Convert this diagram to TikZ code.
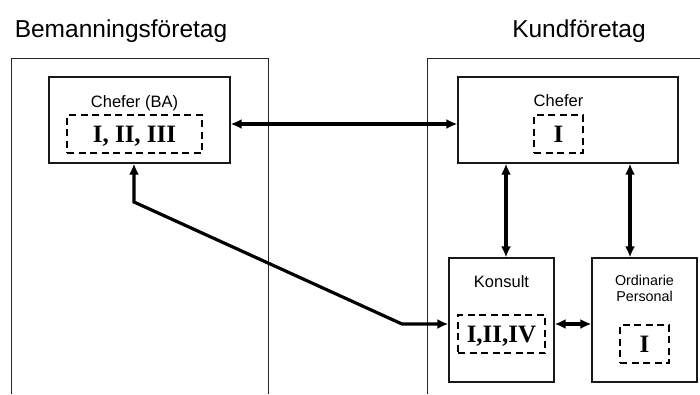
\documentclass[tikz,border=0pt]{standalone}
\usepackage{fontspec}
\setmainfont{Liberation Sans}
\newfontfamily\numfont{Liberation Serif}
\usetikzlibrary{arrows.meta}

\tikzset{
  outerline/.style={draw=black!85, line width=1pt},
  unitbox/.style={draw=black!90, line width=1.2pt, rectangle, inner sep=0pt},
  dashbox/.style={draw=black, line width=1.8pt, dash pattern=on 7pt off 4.5pt,
    rectangle, inner sep=0pt, text height=16pt, text depth=0pt,
    font=\numfont\bfseries\fontsize{25}{25}\selectfont},
  heading/.style={anchor=base, inner sep=0pt, font=\fontsize{24.5}{26}\selectfont},
  boxlabel/.style={anchor=base, inner sep=0pt, font=\fontsize{16.5}{18}\selectfont},
  smalllabel/.style={anchor=base, inner sep=0pt, font=\fontsize{14.3}{16.5}\selectfont},
  link/.style={line width=3.2pt, {Latex[length=11pt,width=10pt]}-{Latex[length=11pt,width=10pt]}}
}

\begin{document}
\begin{tikzpicture}[x=1pt,y=-1pt]
\useasboundingbox (0,0) rectangle (700,394);

% company frames (open at the bottom / right)
\draw[outerline] (11,394) -- (11,58) -- (268,58) -- (268,394);
\draw[outerline] (427,394) -- (427,58) -- (702,58);

% headings
\node[heading] (hBA) at (121,37) {Bemanningsföretag};
\node[heading] (hK)  at (579,37) {Kundföretag};

% staffing agency managers
\node[unitbox, minimum width=181pt, minimum height=86pt] (chefBA) at (139.5,120) {};
\node[boxlabel] (tBA) at (134.5,107) {Chefer (BA)};
\node[dashbox, minimum width=135pt, minimum height=38pt] (dBA) at (134.5,134) {I, II, III};

% client company managers
\node[unitbox, minimum width=220pt, minimum height=86pt] (chefK) at (568,120) {};
\node[boxlabel] (tK) at (558.5,106) {Chefer};
\node[dashbox, minimum width=49pt, minimum height=38pt] (dK) at (558.5,134) {I};

% consultant
\node[unitbox, minimum width=105pt, minimum height=124pt] (kons) at (501.5,320) {};
\node[boxlabel] (tKons) at (501.5,287) {Konsult};
\node[dashbox, minimum width=87pt, minimum height=38pt, text height=17pt] (dKons) at (501.5,334) {I,II,IV};

% regular staff
\node[unitbox, minimum width=105pt, minimum height=124pt] (ord) at (644.5,320) {};
\node[smalllabel] (tOrd1) at (644.5,285) {Ordinarie};
\node[smalllabel] (tOrd2) at (644.5,301.7) {Personal};
\node[dashbox, minimum width=49pt, minimum height=38pt, text height=17pt] (dOrd) at (644.5,344) {I};

% relations
\draw[link] ([yshift=-4pt]chefBA.east) -- ([yshift=-4pt]chefBA.east -| chefK.west);
\draw[link] ([xshift=4.5pt]kons.north) -- ([xshift=4.5pt]kons.north |- chefK.south);
\draw[link] ([xshift=-14.5pt]ord.north) -- ([xshift=-14.5pt]ord.north |- chefK.south);
\draw[link] ([yshift=-4pt]kons.east) -- ([yshift=-4pt]kons.east -| ord.west);

\coordinate (bendA) at (134,202);
\coordinate (bendB) at (402,324);
\draw[link, line join=miter] (bendA |- chefBA.south) -- (bendA) -- (bendB) -- (bendB -| kons.west);
\end{tikzpicture}
\end{document}
